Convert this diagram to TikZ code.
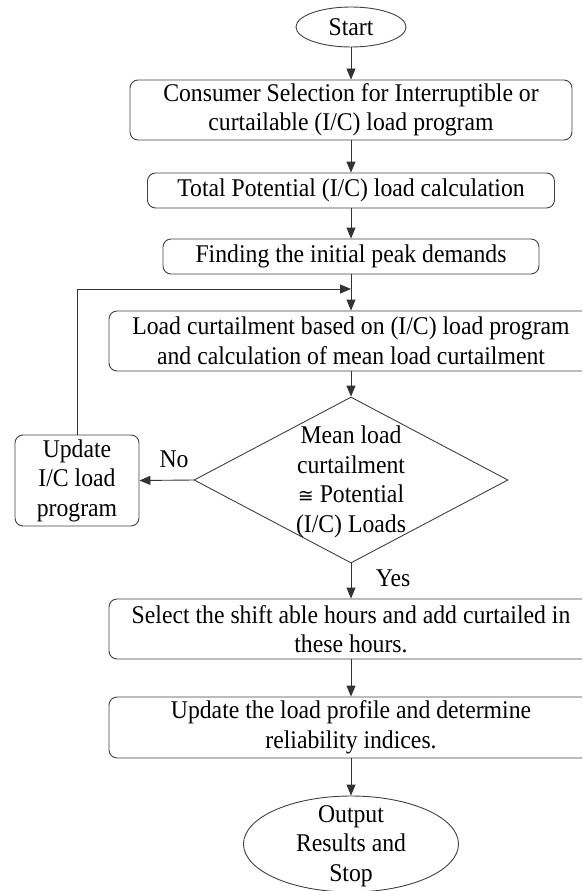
\documentclass[tikz,border=0pt]{standalone}
\usepackage{fontspec}
\setmainfont{Liberation Serif}[FakeStretch=0.93]
\newfontfamily\relsym{DejaVu Sans}
\usetikzlibrary{shapes.geometric,arrows.meta}

\begin{document}
\begin{tikzpicture}[x=1pt,y=-1pt,
  every node/.style={font=\fontsize{25.5}{29.5}\selectfont, text=black, inner sep=0pt, align=center},
  outline/.style={draw=black!75, line width=0.9pt},
  stepbox/.style={outline, rectangle, rounded corners=8pt},
  terminal/.style={outline, ellipse},
  decision/.style={outline, diamond},
  flow/.style={draw=black!80, line width=0.9pt, -{Triangle[length=11pt,width=9pt]}}
]
\useasboundingbox (0,0) rectangle (582,891);
\clip (0,0) rectangle (582,891);

% terminals and process steps
\node[terminal, minimum width=110, minimum height=40] (start) at (351,27) {Start};
\node[stepbox, minimum width=442, minimum height=60] (sel) at (351,110)
  {Consumer Selection for Interruptible or\\curtailable (I/C) load program};
\node[stepbox, minimum width=407, minimum height=35] (tot) at (351,190.5)
  {Total Potential (I/C) load calculation};
\node[stepbox, minimum width=376, minimum height=35] (peak) at (351,256.5)
  {Finding the initial peak demands};
\node[stepbox, minimum width=484, minimum height=60] (curt) at (351,341)
  {Load curtailment based on (I/C) load program\\and calculation of mean load curtailment};

% decision
\node[decision, minimum width=314, minimum height=166] (dec) at (351,480) {};
\node (dectext) at (351,482)
  {Mean load\\curtailment\\{\relsym\fontsize{19}{29.5}\selectfont ≅} Potential\\(I/C) Loads};

\node[stepbox, minimum width=124, minimum height=91] (upd) at (77,480.5)
  {Update\\I/C load\\program};

\node[stepbox, minimum width=484, minimum height=60] (shift) at (351,629)
  {Select the shift able hours and add curtailed in\\these hours.};
\node[stepbox, minimum width=484, minimum height=61] (prof) at (351,727.5)
  {Update the load profile and determine\\reliability indices.};

\node[terminal, minimum width=215, minimum height=96] (out) at (351,844) {};
\node (outtext) at (351,846) {Output\\Results and\\Stop};

% branch labels
\node (no) at (174,459) {No};
\node (yes) at (393,578) {Yes};

% connectors
\coordinate (join) at (351,289);
\draw[flow] (start) -- (sel);
\draw[flow] (sel) -- (tot);
\draw[flow] (tot) -- (peak);
\draw[flow] (peak) -- (curt);
\draw[flow] (curt) -- (dec);
\draw[flow] (dec.west) -- (upd.east);
\draw[flow] (upd.north) |- (join);
\draw[flow] (dec) -- (shift);
\draw[flow] (shift) -- (prof);
\draw[flow] (prof) -- (out);
\end{tikzpicture}
\end{document}
